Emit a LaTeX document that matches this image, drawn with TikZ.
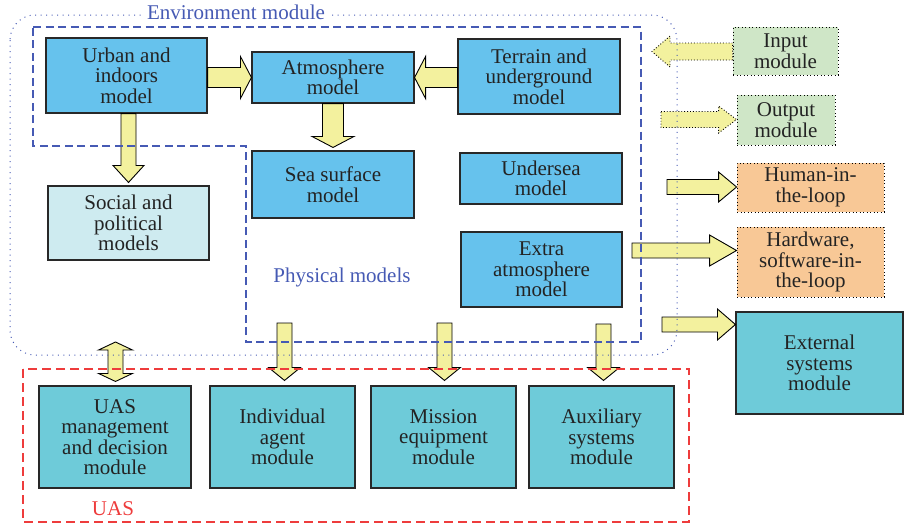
\documentclass[tikz,border=0pt]{standalone}
\usepackage{fontspec}
\setmainfont{Liberation Serif}
\usetikzlibrary{calc}

\definecolor{ink}{RGB}{35,35,35}
\definecolor{edge}{RGB}{40,40,40}
\definecolor{physblue}{RGB}{102,194,237}
\definecolor{socialcyan}{RGB}{206,235,240}
\definecolor{uasteal}{RGB}{110,203,217}
\definecolor{iogreen}{RGB}{207,230,199}
\definecolor{looporange}{RGB}{248,200,150}
\definecolor{arrowyellow}{RGB}{243,241,158}
\definecolor{envblue}{RGB}{70,90,180}
\definecolor{uasred}{RGB}{238,60,60}

\tikzset{
  lbl/.style={font=\fontsize{21}{20.5}\selectfont, align=center, text=ink, inner sep=0pt},
  modbox/.style={lbl, draw=edge, line width=1.1pt},
  physbox/.style={modbox, fill=physblue},
  socbox/.style={modbox, fill=socialcyan},
  uasbox/.style={modbox, fill=uasteal},
  dotedge/.style={draw=black, line width=0.9pt, dash pattern=on 0.9pt off 2.6pt},
  iobox/.style={lbl, dotedge, fill=iogreen},
  loopbox/.style={lbl, dotedge, fill=looporange},
  fatarrow/.style={fill=arrowyellow, draw=black, line width=0.9pt, line join=miter},
  dotarrow/.style={dash pattern=on 0.9pt off 2pt},
  envdots/.style={draw=envblue, line width=1pt, dash pattern=on 1pt off 4.5pt},
  physdash/.style={draw=envblue, line width=1.1pt, dash pattern=on 8pt off 4.5pt},
  uasdash/.style={draw=uasred, line width=1.1pt, dash pattern=on 9pt off 5pt},
}

% block arrow: [style]{tail}{tip}{shaft half width}{head half width}{head length}
\newcommand\blockarrow[6][]{%
  \coordinate (ba-c) at ($#3!#6!#2$);
  \draw[fatarrow,#1] ($#2!#4!90:#3$) -- ($(ba-c)!#4!90:#3$) -- ($(ba-c)!#5!90:#3$)
    -- #3 -- ($(ba-c)!#5!-90:#3$) -- ($(ba-c)!#4!-90:#3$) -- ($#2!#4!-90:#3$) -- cycle;}

% two-headed block arrow: {end}{end}{shaft half width}{head half width}{head length}
\newcommand\twinarrow[5]{%
  \coordinate (ta-a) at ($#1!#5!#2$);
  \coordinate (ta-b) at ($#2!#5!#1$);
  \draw[fatarrow] #1 -- ($(ta-a)!#4!90:#2$) -- ($(ta-a)!#3!90:#2$) -- ($(ta-b)!#3!90:#2$)
    -- ($(ta-b)!#4!90:#2$) -- #2 -- ($(ta-b)!#4!-90:#2$) -- ($(ta-b)!#3!-90:#2$)
    -- ($(ta-a)!#3!-90:#2$) -- ($(ta-a)!#4!-90:#2$) -- cycle;}

\begin{document}
\begin{tikzpicture}[x=1pt,y=-1pt]
\useasboundingbox (0,0) rectangle (904,525);

% physical models
\node[physbox, minimum width=161, minimum height=75] (urban) at (126.5,75.5) {Urban and\\indoors\\model};
\node[physbox, minimum width=162, minimum height=51] (atm) at (333,77.5) {Atmosphere\\model};
\node[physbox, minimum width=162, minimum height=75] (terrain) at (539,76.5) {Terrain and\\underground\\model};
\node[physbox, minimum width=162, minimum height=67] (sea) at (333,184.5) {Sea surface\\model};
\node[socbox, minimum width=161, minimum height=74] (social) at (128.5,223) {Social and\\political\\models};
\node[physbox, minimum width=162, minimum height=51] (undersea) at (541,178.5) {Undersea\\model};
\node[physbox, minimum width=161, minimum height=75] (extra) at (541.5,269.5) {Extra\\atmosphere\\model};

% modules outside the environment
\node[iobox, minimum width=105, minimum height=48] (input) at (785.5,51) {Input\\module};
\node[iobox, minimum width=98, minimum height=50] (output) at (786,120) {Output\\module};
\node[loopbox, minimum width=147, minimum height=49] (human) at (810.5,187.5) {Human-in-\\the-loop};
\node[loopbox, minimum width=147, minimum height=70] (hardware) at (810.5,262) {Hardware,\\software-in-\\the-loop};
\node[uasbox, minimum width=167, minimum height=102] (external) at (819.5,363) {External\\systems\\module};

% UAS modules
\node[uasbox, minimum width=152, minimum height=102] (uasm) at (115,437) {UAS\\management\\and decision\\module};
\node[uasbox, minimum width=145, minimum height=102] (indiv) at (282.5,437) {Individual\\agent\\module};
\node[uasbox, minimum width=145, minimum height=102] (mission) at (443.5,437) {Mission\\equipment\\module};
\node[uasbox, minimum width=145, minimum height=102] (aux) at (601.5,437) {Auxiliary\\systems\\module};

% free arrow ends
\coordinate (inTip) at (652,51.5);
\coordinate (outTail) at (661,119.5);
\coordinate (humTail) at (667,187);
\coordinate (hwTail) at (632,250.5);
\coordinate (extTail) at (662,324.5);
\coordinate (envLink) at (115.5,342);
\coordinate (indTail) at (284.5,323);
\coordinate (misTail) at (444.5,323);
\coordinate (auxTail) at (603.5,324);

% arrows
\blockarrow{(urban.east |- atm.west)}{(atm.west)}{10pt}{21pt}{11pt}
\blockarrow{(terrain.west |- atm.east)}{(atm.east)}{10pt}{21pt}{11pt}
\blockarrow{(atm.south)}{([yshift=3pt]sea.north)}{10.5pt}{21pt}{11pt}
\blockarrow{(social.north |- urban.south)}{([yshift=3pt]social.north)}{7.5pt}{15.5pt}{17pt}
\blockarrow[dotarrow]{(input.west |- inTip)}{(inTip)}{8.5pt}{15.5pt}{18pt}
\blockarrow[dotarrow]{(outTail)}{(output.west |- outTail)}{8pt}{13.5pt}{18pt}
\blockarrow{(humTail)}{(human.west |- humTail)}{7.5pt}{15pt}{18pt}
\blockarrow{(hwTail)}{(hardware.west |- hwTail)}{7.5pt}{15.5pt}{27pt}
\blockarrow{(extTail)}{(external.west |- extTail)}{7.5pt}{15.5pt}{18pt}
\twinarrow{(envLink)}{([yshift=4pt]envLink |- uasm.north)}{7.5pt}{17pt}{8pt}
\blockarrow{(indTail)}{([yshift=5pt]indTail |- indiv.north)}{7.5pt}{16pt}{13pt}
\blockarrow{(misTail)}{([yshift=5pt]misTail |- mission.north)}{7.5pt}{16pt}{13pt}
\blockarrow{(auxTail)}{([yshift=5pt]auxTail |- aux.north)}{7.5pt}{16pt}{13pt}

% groupings
\draw[envdots, rounded corners=25pt] (10,15) rectangle (677,355);
\draw[physdash] (33,27) -- (641,27) -- (641,342) -- (246,342) -- (246,146) -- (33,146) -- cycle;
\draw[uasdash] (23,369) rectangle (689,522);

\node[lbl, text=envblue, fill=white, inner xsep=4pt, inner ysep=1pt] (envlabel) at (236,12.5) {Environment module};
\node[lbl, text=envblue] (physlabel) at (342,277) {Physical models};
\node[lbl, text=uasred] (uaslabel) at (113,509) {UAS};
\end{tikzpicture}
\end{document}
